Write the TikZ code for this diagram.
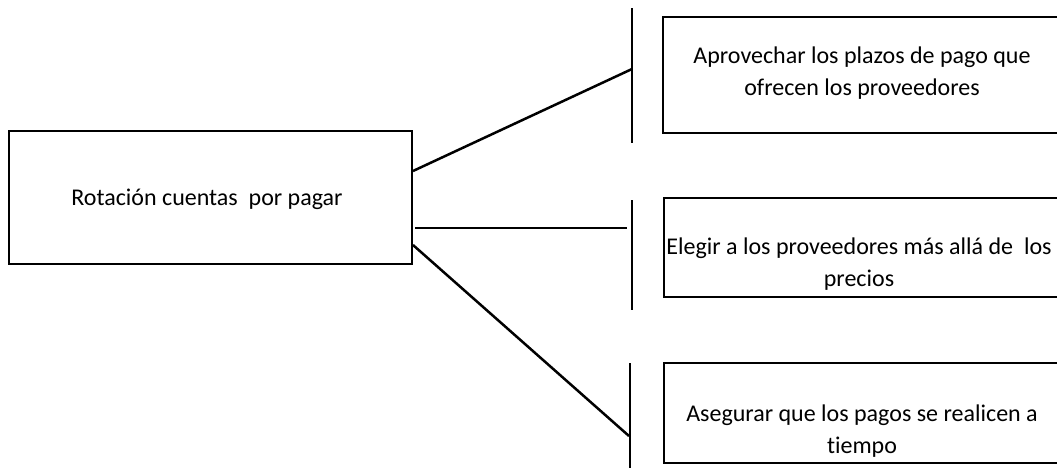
\documentclass[tikz,border=0pt]{standalone}
\usepackage{fontspec}
\setmainfont{Carlito}[Ligatures={NoCommon}]
\begin{document}
\begin{tikzpicture}[x=1pt,y=-1pt,
  box/.style={draw=black,line width=1.5pt,rectangle,inner sep=0pt},
  lbl/.style={align=center,font=\fontsize{24}{32}\selectfont,inner sep=0pt},
  bar/.style={line width=2.3pt},
  conn/.style={line width=2.5pt}]
\useasboundingbox (0,0) rectangle (1057,467);
\clip (0,0) rectangle (1057,467);
% main box
\node[box,minimum width=403pt,minimum height=133pt] (main) at (210.5,197.5) {};
\node[lbl] (maint) at (207,199) {Rotación cuentas\ \ por pagar};
% right boxes
\node[box,minimum width=400pt,minimum height=116pt,anchor=north west] (b1) at (662,16) {};
\node[lbl] (b1t) at (862,73) {Aprovechar los plazos de pago que\\ofrecen los proveedores};
\node[box,minimum width=400pt,minimum height=99pt,anchor=north west] (b2) at (663,197) {};
\node[lbl] (b2t) at (859,264) {Elegir a los proveedores más allá de\ \ los\\precios};
\node[box,minimum width=400pt,minimum height=100pt,anchor=north west] (b3) at (663,362) {};
\node[lbl] (b3t) at (862,431) {Asegurar que los pagos se realicen a\\tiempo};
% bars
\coordinate (t1) at (632,8);   \coordinate (u1) at (632,143);
\coordinate (t2) at (632,200); \coordinate (u2) at (632,310);
\coordinate (t3) at (630,363); \coordinate (u3) at (630,470);
\draw[bar] (t1) -- (u1);
\draw[bar] (t2) -- (u2);
\draw[bar] (t3) -- (u3);
% connectors
\coordinate (s1) at (413,171); \coordinate (e1) at (632,69);
\coordinate (s2) at (415,228); \coordinate (e2) at (627,228);
\coordinate (s3) at (413,245); \coordinate (e3) at (629,436);
\draw[conn] (s1) -- (e1);
\draw[conn] (s2) -- (e2);
\draw[conn] (s3) -- (e3);
\end{tikzpicture}
\end{document}
